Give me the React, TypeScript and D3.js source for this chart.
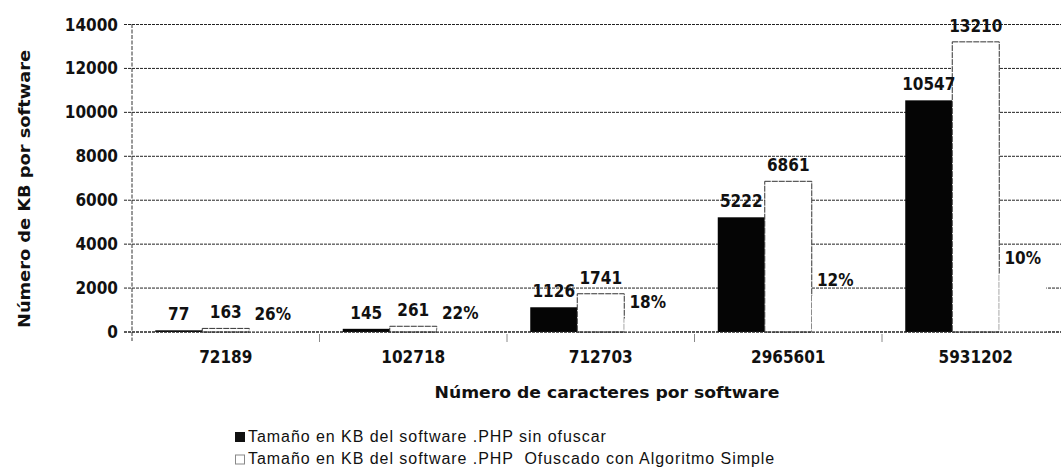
import * as d3 from "d3";

const categories = ["72189", "102718", "712703", "2965601", "5931202"];
const sinOfuscar = [77, 145, 1126, 5222, 10547];
const ofuscado = [163, 261, 1741, 6861, 13210];
// third (hidden) series: white bars with no outline, labelled with a percentage
const diferencia = [86, 116, 615, 1639, 2663];
const porcentajes = ["26%", "22%", "18%", "12%", "10%"];
const yTicks = [0, 2000, 4000, 6000, 8000, 10000, 12000, 14000];
const legendItems = [
  "Tamaño en KB del software .PHP sin ofuscar",
  "Tamaño en KB del software .PHP  Ofuscado con Algoritmo Simple",
];

const W = 1061;
const H = 473;
const boldFont = "'DejaVu Sans Condensed', 'DejaVu Sans', sans-serif";

export default function App() {
  const x = d3
    .scaleBand()
    .domain(categories)
    .range([132, 1069.5])
    .paddingInner(0.248)
    .paddingOuter(0.124);

  const series = ["sin", "ofu", "dif"];
  const xs = d3.scaleBand().domain(series).range([0, x.bandwidth()]);

  const y = d3.scaleLinear().domain([0, 14000]).range([332, 24.5]);

  const rows = categories.map((c, i) => ({
    cat: c,
    vals: [sinOfuscar[i], ofuscado[i], diferencia[i]],
    labels: [String(sinOfuscar[i]), String(ofuscado[i]), porcentajes[i]],
  }));

  const step = x.step();
  const boundaries = categories.slice(1).map((c) => (x(c) as number) - (step * 0.248) / 2);

  const labelStyle = {
    fontFamily: boldFont,
    fontWeight: 700,
    fontSize: 17,
    fontStretch: "condensed" as const,
    fill: "#111",
  };

  return (
    <svg
      width={W}
      height={H}
      viewBox={`0 0 ${W} ${H}`}
      style={{ position: "absolute", left: 0, top: 0, background: "#fff" }}
    >
      <rect width={W} height={H} fill="#fff" />

      {/* grid */}
      {yTicks.map((t) => (
        <line
          key={`g${t}`}
          x1={124}
          x2={1075}
          y1={y(t)}
          y2={y(t)}
          stroke="#222"
          strokeWidth={1}
          strokeDasharray="3,1"
        />
      ))}

      {/* y axis */}
      <line x1={132} x2={132} y1={24} y2={341} stroke="#333" strokeWidth={1} strokeDasharray="4,1.5" />
      {yTicks.map((t) => (
        <text key={`t${t}`} x={118} y={y(t) + 6} textAnchor="end" style={labelStyle}>
          {t}
        </text>
      ))}

      {/* category boundary ticks */}
      {boundaries.map((b, i) => (
        <line key={`b${i}`} x1={b} x2={b} y1={334} y2={342} stroke="#888" strokeWidth={1} />
      ))}

      {/* bars */}
      {rows.map((r) => (
        <g key={r.cat} transform={`translate(${x(r.cat)},0)`}>
          {r.vals.map((v, j) => {
            const bx = xs(series[j]) as number;
            const by = y(v);
            return (
              <rect
                key={j}
                x={bx}
                y={by}
                width={xs.bandwidth()}
                height={y(0) - by}
                fill={j === 0 ? "#050505" : "#fff"}
                stroke={j === 1 ? "#333" : "none"}
                strokeWidth={1}
                strokeDasharray={j === 1 ? "6,1" : undefined}
              />
            );
          })}
          {r.vals.map((v, j) => (
            <text
              key={`l${j}`}
              x={(xs(series[j]) as number) + xs.bandwidth() / 2}
              y={y(v) - 10}
              textAnchor="middle"
              style={labelStyle}
            >
              {r.labels[j]}
            </text>
          ))}
          <text
            x={x.bandwidth() / 2}
            y={363}
            textAnchor="middle"
            style={labelStyle}
          >
            {r.cat}
          </text>
        </g>
      ))}

      {/* x axis baseline */}
      <line x1={124} x2={1075} y1={y(0)} y2={y(0)} stroke="#222" strokeWidth={1} strokeDasharray="3,1" />

      {/* axis titles */}
      <text
        x={607}
        y={398}
        textAnchor="middle"
        textLength={345}
        lengthAdjust="spacingAndGlyphs"
        style={{ ...labelStyle, fontSize: 15, fontWeight: 900 }}
      >
        Número de caracteres por software
      </text>
      <text
        transform="translate(30,189) rotate(-90)"
        textAnchor="middle"
        textLength={278}
        lengthAdjust="spacingAndGlyphs"
        style={{ ...labelStyle, fontSize: 15, fontWeight: 900 }}
      >
        Número de KB por software
      </text>

      {/* legend */}
      {legendItems.map((l, i) => (
        <g key={l} transform={`translate(235,${432 + i * 22.5})`}>
          <rect
            x={i === 0 ? 0 : 0.5}
            y={i === 0 ? 0 : 0.5}
            width={i === 0 ? 10 : 9}
            height={i === 0 ? 10 : 9}
            fill={i === 0 ? "#111" : "#fff"}
            stroke={i === 0 ? "none" : "#888"}
          />
          <text
            x={13}
            y={9.5}
            style={{
              fontFamily: "'Liberation Sans', Arial, sans-serif",
              fontSize: 16,
              letterSpacing: 0.95,
              fill: "#111",
              whiteSpace: "pre",
            }}
          >
            {l}
          </text>
        </g>
      ))}
    </svg>
  );
}
